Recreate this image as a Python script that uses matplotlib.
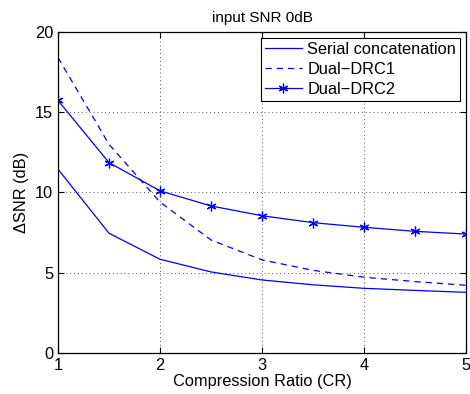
import numpy as np
import matplotlib
matplotlib.use('Agg')
import matplotlib.pyplot as plt

plt.rcParams['font.family'] = ['Liberation Sans', 'DejaVu Sans']
plt.rcParams['font.size'] = 11.8

# 데이터
cr = [1, 1.5, 2, 2.5, 3, 3.5, 4, 4.5, 5]
serial = [11.45, 7.46, 5.84, 5.05, 4.55, 4.25, 4.03, 3.9, 3.78]
drc1 = [18.4, 13.0, 9.4, 7.04, 5.8, 5.15, 4.72, 4.45, 4.22]
drc2 = [15.73, 11.86, 10.1, 9.16, 8.55, 8.12, 7.83, 7.58, 7.41]

fig = plt.figure(figsize=(4.70, 3.94), dpi=100)
ax = fig.add_axes([0.1234, 0.104, 0.868, 0.815])

ax.plot(cr, serial, color='#0000ff', linewidth=0.9, label='Serial concatenation')
ax.plot(cr, drc1, color='#0000ff', linewidth=0.9, linestyle=(0, (5, 4)), label='Dual\u2212DRC1')
ax.plot(cr, drc2, color='#0000ff', linewidth=0.9, marker=(6, 2, 0), markersize=7,
        markeredgewidth=0.9, label='Dual\u2212DRC2')

ax.set_xlim(1, 5)
ax.set_ylim(0, 20)
ax.set_xticks([1, 2, 3, 4, 5])
ax.set_yticks([0, 5, 10, 15, 20])
ax.grid(True, linestyle=(0, (1, 3)), color='#555555', linewidth=0.7)
ax.tick_params(direction='in', top=True, right=True, length=4, width=0.8)
for s in ax.spines.values():
    s.set_linewidth(0.9)

ax.set_xlabel('Compression Ratio (CR)', labelpad=1)
ax.set_ylabel('\u0394SNR (dB)', labelpad=4)
ax.set_title('input SNR 0dB', fontsize=11, pad=7)

leg = ax.legend(loc='upper right', fancybox=False, framealpha=1, edgecolor='black',
                borderaxespad=0.35, handlelength=2.3, borderpad=0.25, labelspacing=0.3,
                handletextpad=0.3)
leg.get_frame().set_linewidth(0.8)

plt.savefig('out.png', dpi=100)
